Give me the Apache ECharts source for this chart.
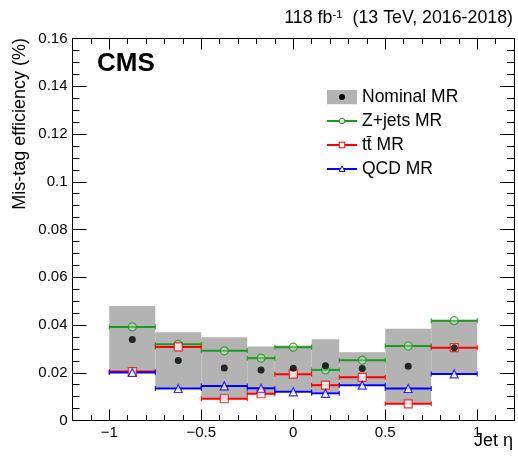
<!DOCTYPE html>
<html><head><meta charset="utf-8">
<script src="https://cdn.jsdelivr.net/npm/echarts@6/dist/echarts.min.js"></script>
<style>html,body{margin:0;padding:0;background:#fff}#c{width:518px;height:459px}</style>
</head><body><div id="c"></div>
<script>
// ---- data ----
const binEdges    = [-1, -0.75, -0.5, -0.25, -0.1, 0.1, 0.25, 0.5, 0.75, 1];
const nominal     = [0.0339, 0.0251, 0.0220, 0.0212, 0.0219, 0.0229, 0.0218, 0.0227, 0.0305];
const nominalLow  = [0.0200, 0.0132, 0.0091, 0.0114, 0.0124, 0.0118, 0.0150, 0.0070, 0.0195];
const nominalHigh = [0.0480, 0.0370, 0.0349, 0.0310, 0.0314, 0.0340, 0.0286, 0.0384, 0.0418];
const zjets       = [0.0392, 0.0319, 0.0292, 0.0261, 0.0307, 0.0212, 0.0252, 0.0312, 0.0418];
const ttbar       = [0.0205, 0.0308, 0.0091, 0.0112, 0.0194, 0.0148, 0.0181, 0.0070, 0.0305];
const qcd         = [0.0201, 0.0134, 0.0145, 0.0135, 0.0120, 0.0114, 0.0148, 0.0134, 0.0195];
const xTickValues = [-1, -0.5, 0, 0.5, 1];
const seriesNames = ['Nominal MR', 'Z+jets MR', 'tt\u0304 MR', 'QCD MR'];

const FONT = '"Liberation Sans", Arial, Helvetica, sans-serif';
const GRAY = '#b3b3b3', GREEN = '#1c9a1c', RED = '#ff0000', BLUE = '#0000ff';

const lo = binEdges.slice(0, -1), hi = binEdges.slice(1);
const centers = lo.map((l, i) => (l + hi[i]) / 2);
const boxData = lo.map((l, i) => [l, hi[i], nominalLow[i], nominalHigh[i]]);
const lineData = arr => lo.map((l, i) => [l, hi[i], arr[i]]);
const ptData = arr => centers.map((c, i) => [c, arr[i]]);

function boxItem(params, api) {
  const p1 = api.coord([api.value(0), api.value(3)]);
  const p2 = api.coord([api.value(1), api.value(2)]);
  return {type: 'rect', shape: {x: p1[0], y: p1[1], width: p2[0] - p1[0], height: p2[1] - p1[1]},
          style: {fill: GRAY}};
}
function hLine(color) {
  return function (params, api) {
    const v = api.value(2);
    const p1 = api.coord([api.value(0), v]), p2 = api.coord([api.value(1), v]);
    return {type: 'group', children: [
      {type: 'line', shape: {x1: p1[0], y1: p1[1], x2: p2[0], y2: p2[1]}, style: {stroke: color, lineWidth: 2}},
      {type: 'line', shape: {x1: p1[0], y1: p1[1] - 2.5, x2: p1[0], y2: p1[1] + 2.5}, style: {stroke: color, lineWidth: 1}},
      {type: 'line', shape: {x1: p2[0], y1: p2[1] - 2.5, x2: p2[0], y2: p2[1] + 2.5}, style: {stroke: color, lineWidth: 1}}
    ]};
  };
}
function svgIcon(inner) {
  const s = "<svg xmlns='http://www.w3.org/2000/svg' width='30' height='15' viewBox='0 0 30 15'>" + inner + "</svg>";
  return 'image://data:image/svg+xml;charset=utf-8,' + encodeURIComponent(s);
}
function lineIcon(color, marker) {
  return svgIcon("<line x1='0' y1='7.5' x2='30' y2='7.5' stroke='" + color + "' stroke-width='2'/>" + marker);
}
const icons = [
  svgIcon("<rect x='0' y='0' width='30' height='15' fill='" + GRAY + "'/><circle cx='15' cy='7.5' r='3' fill='#000'/>"),
  lineIcon(GREEN, "<circle cx='15' cy='7.5' r='2.8' fill='#fff' stroke='" + GREEN + "' stroke-width='1'/>"),
  lineIcon(RED, "<rect x='12.2' y='4.7' width='5.6' height='5.6' fill='#fff' stroke='" + RED + "' stroke-width='1'/>"),
  lineIcon(BLUE, "<polygon points='15,4.5 18,10 12,10' fill='#fff' stroke='" + BLUE + "' stroke-width='1'/>")
];

const gridBox = {left: 72.5, right: 4, top: 38.5, bottom: 38.5, containLabel: false};
const black = {color: '#000', width: 1};
const xBase = {type: 'value', min: -1.2, max: 1.2, splitLine: {show: false},
  axisLine: {show: true, onZero: false, lineStyle: black}};
const yBase = {type: 'value', min: 0, max: 0.16, interval: 0.02, splitLine: {show: false},
  axisLine: {show: true, onZero: false, lineStyle: black},
  axisTick: {inside: true, length: 14, lineStyle: black},
  minorTick: {show: true, splitNumber: 4, length: 7, lineStyle: black}};

const chart = echarts.init(document.getElementById('c'), null, {renderer: 'canvas'});
chart.setOption({
  animation: false,
  backgroundColor: '#fff',
  grid: [Object.assign({}, gridBox), Object.assign({}, gridBox)],
  xAxis: [
    Object.assign({}, xBase, {gridIndex: 0, position: 'bottom', interval: 0.1,
      axisTick: {inside: true, length: 5.5, lineStyle: black},
      axisLabel: {customValues: xTickValues, fontSize: 15, fontFamily: FONT, color: '#000', margin: 5,
        formatter: v => String(v).replace('-', '\u2212')}}),
    Object.assign({}, xBase, {gridIndex: 0, position: 'top', interval: 0.1,
      axisTick: {inside: true, length: 5.5, lineStyle: black}, axisLabel: {show: false}}),
    Object.assign({}, xBase, {gridIndex: 1, position: 'bottom', axisLine: {show: false},
      axisTick: {inside: true, length: 11, lineStyle: black, customValues: xTickValues}, axisLabel: {show: false}}),
    Object.assign({}, xBase, {gridIndex: 1, position: 'top', axisLine: {show: false},
      axisTick: {inside: true, length: 11, lineStyle: black, customValues: xTickValues}, axisLabel: {show: false}})
  ],
  yAxis: [
    Object.assign({}, yBase, {gridIndex: 0, position: 'left',
      axisLabel: {fontSize: 15, fontFamily: FONT, color: '#000', margin: 5}}),
    Object.assign({}, yBase, {gridIndex: 0, position: 'right', axisLabel: {show: false}}),
    Object.assign({}, yBase, {gridIndex: 1, show: false})
  ],
  legend: {
    orient: 'vertical', left: 327, top: 88, padding: 0, itemWidth: 30, itemHeight: 15, itemGap: 6,
    selectedMode: false,
    textStyle: {fontSize: 17.5, fontFamily: FONT, color: '#000', lineHeight: 18},
    data: seriesNames.map((n, i) => ({name: n, icon: icons[i]}))
  },
  graphic: [
    {type: 'text', right: 5, top: 9, style: {
      text: '118 fb{sup|-1}  (13 TeV, 2016-2018)',
      font: '17.8px ' + FONT, fill: '#000',
      rich: {sup: {fontSize: 11.5, fontFamily: FONT, verticalAlign: 'top', fill: '#000', padding: [0, 0, 6, 0]}}}},
    {type: 'text', x: 97, y: 64, style: {text: 'CMS', font: 'bold 26px ' + FONT, fill: '#000',
      textAlign: 'left', textVerticalAlign: 'middle'}},
    {type: 'text', x: 20, y: 38, rotation: Math.PI / 2, style: {text: 'Mis-tag efficiency (%)',
      font: '18px ' + FONT, fill: '#000', textAlign: 'right', textVerticalAlign: 'middle'}},
    {type: 'text', x: 513, y: 441, style: {text: 'Jet \u03b7', font: '18px ' + FONT, fill: '#000',
      textAlign: 'right', textVerticalAlign: 'middle'}}
  ],
  series: [
    {name: seriesNames[0], type: 'custom', renderItem: boxItem, data: boxData,
     encode: {x: [0, 1], y: [2, 3]}, xAxisIndex: 0, yAxisIndex: 0, z: 1},
    {name: seriesNames[1], type: 'custom', renderItem: hLine(GREEN), data: lineData(zjets),
     encode: {x: [0, 1], y: 2}, xAxisIndex: 0, yAxisIndex: 0, z: 2},
    {name: seriesNames[2], type: 'custom', renderItem: hLine(RED), data: lineData(ttbar),
     encode: {x: [0, 1], y: 2}, xAxisIndex: 0, yAxisIndex: 0, z: 2},
    {name: seriesNames[3], type: 'custom', renderItem: hLine(BLUE), data: lineData(qcd),
     encode: {x: [0, 1], y: 2}, xAxisIndex: 0, yAxisIndex: 0, z: 2},
    {name: seriesNames[1], type: 'scatter', symbol: 'circle', symbolSize: 8, data: ptData(zjets),
     itemStyle: {color: 'rgba(255,255,255,0.35)', borderColor: GREEN, borderWidth: 1.2}, z: 3},
    {name: seriesNames[2], type: 'scatter', symbol: 'rect', symbolSize: 8, data: ptData(ttbar),
     itemStyle: {color: '#fff', borderColor: RED, borderWidth: 1.2}, z: 3},
    {name: seriesNames[3], type: 'scatter', symbol: 'triangle', symbolSize: 8, data: ptData(qcd),
     itemStyle: {color: '#fff', borderColor: BLUE, borderWidth: 1.2}, z: 3},
    {name: seriesNames[0], type: 'scatter', symbol: 'circle', symbolSize: 7, data: ptData(nominal),
     itemStyle: {color: '#000'}, z: 4}
  ]
});
</script></body></html>
